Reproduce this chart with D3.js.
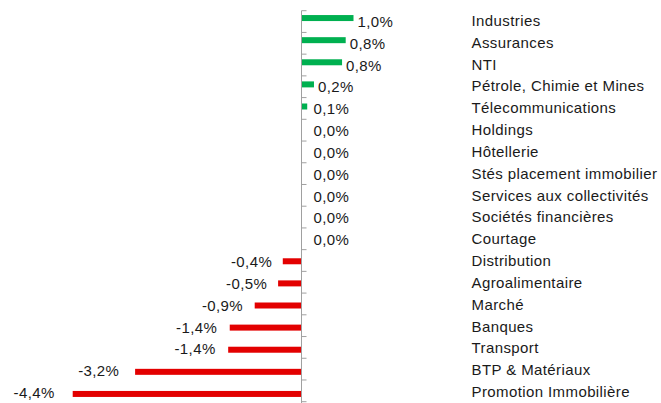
<!DOCTYPE html>
<html lang="fr">
<head>
  <meta charset="UTF-8">
  <title>Performances sectorielles</title>
  <style>
    body { margin: 0; background: #fff; }
    svg { display: block; }
    text {
      font-family: "Liberation Sans", Arial, sans-serif;
      font-size: 15px;
      letter-spacing: 0.4px;
      fill: #1a1a1a;
    }
    .axis path, .axis line { stroke: #a0a0a0; stroke-width: 1px; }
  </style>
</head>
<body>
  <svg id="chart" width="661" height="403"></svg>
  <script src="https://d3js.org/d3.v7.min.js"></script>
  <script>
    const sectors = ['Industries', 'Assurances', 'NTI', 'Pétrole, Chimie et Mines', 'Télecommunications',
      'Holdings', 'Hôtellerie', 'Stés placement immobilier', 'Services aux collectivités',
      'Sociétés financières', 'Courtage', 'Distribution', 'Agroalimentaire', 'Marché',
      'Banques', 'Transport', 'BTP & Matériaux', 'Promotion Immobilière']
    const variations = [1.0, 0.85, 0.78, 0.24, 0.11, 0, 0, 0, 0, 0, 0,
      -0.36, -0.45, -0.9, -1.38, -1.41, -3.2, -4.4]

    const svg = d3.select('#chart')
    const axisX = 301.5

    // 52 px for 1 point of variation
    const x = d3.scaleLinear()
      .domain([-4.4, 1.0])
      .range([axisX - 4.4 * 52, axisX + 52])

    // bars and tick marks do not share exactly the same spacing in the original
    const yBar = d3.scaleBand().domain(sectors).range([7, 405])
    const yTick = d3.scaleBand().domain(sectors).range([10.7, 401.7])
    const yLabel = d3.scalePoint().domain(sectors).range([21, 392])

    const fmt = v => v.toFixed(1).replace('.', ',') + '%'
    const data = sectors.map((s, i) => ({ name: s, value: variations[i] }))

    svg.selectAll('.bar')
      .data(data)
      .enter()
      .append('rect')
      .attr('class', 'bar')
      .attr('x', d => x(Math.min(0, d.value)))
      .attr('width', d => Math.abs(x(d.value) - x(0)))
      .attr('y', d => yBar(d.name) + yBar.bandwidth() / 2 - 3)
      .attr('height', 6)
      .attr('fill', d => d.value >= 0 ? '#00b050' : '#e30000')

    // vertical axis with small ticks at category boundaries
    const axisG = svg.append('g')
      .attr('class', 'axis')
      .attr('transform', `translate(${x(0)},0)`)
    axisG.append('line')
      .attr('y1', yTick.range()[0])
      .attr('y2', 403)
    axisG.selectAll('.tick-mark')
      .data(sectors.concat(['end']))
      .enter()
      .append('line')
      .attr('class', 'tick-mark')
      .attr('x2', 5)
      .attr('y1', (d, i) => yTick.range()[0] + i * yTick.step())
      .attr('y2', (d, i) => yTick.range()[0] + i * yTick.step())

    svg.selectAll('.value-label')
      .data(data)
      .enter()
      .append('text')
      .attr('class', 'value-label')
      .attr('x', d => d.value < 0
        ? x(d.value) - 10 - 1.8 * Math.abs(d.value)
        : Math.max(x(d.value) + 4, x(0) + 12))
      .attr('y', d => yLabel(d.name) + 6)
      .attr('text-anchor', d => d.value < 0 ? 'end' : 'start')
      .text(d => fmt(d.value))

    svg.selectAll('.cat-label')
      .data(data)
      .enter()
      .append('text')
      .attr('class', 'cat-label')
      .attr('x', 471.5)
      .attr('y', d => yLabel(d.name) + 5)
      .text(d => d.name)
  </script>
</body>
</html>
